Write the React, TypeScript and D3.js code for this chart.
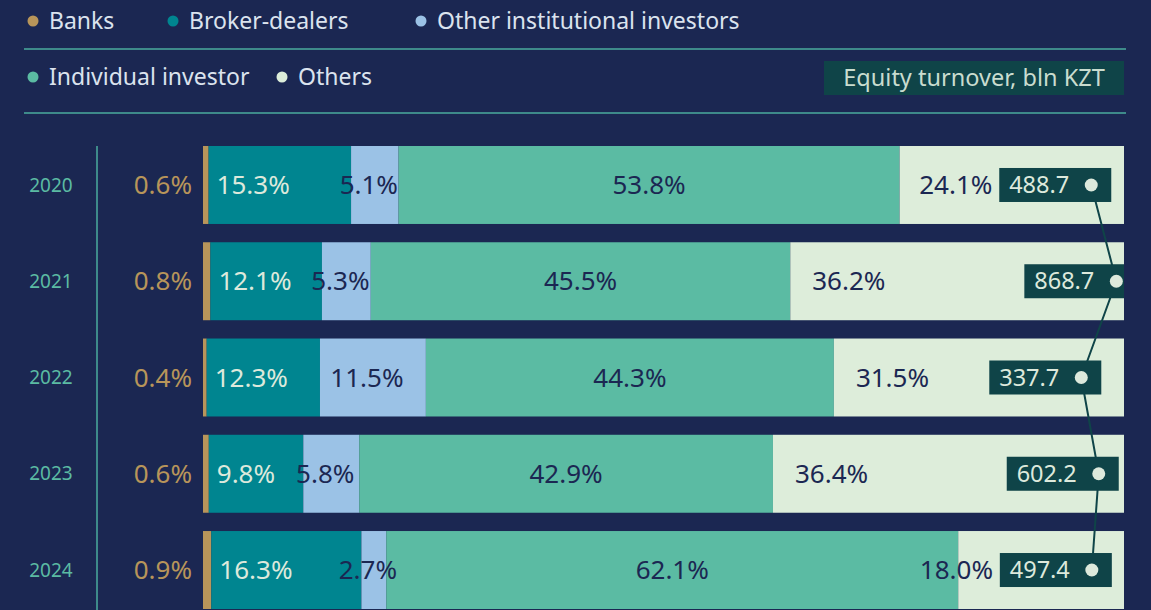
import React from "react";
import * as d3 from "d3";

const years = ["2020", "2021", "2022", "2023", "2024"];
const banks = [0.6, 0.8, 0.4, 0.6, 0.9];
const brokers = [15.3, 12.1, 12.3, 9.8, 16.3];
const otherInst = [5.1, 5.3, 11.5, 5.8, 2.7];
const individual = [53.8, 45.5, 44.3, 42.9, 62.1];
const others = [24.1, 36.2, 31.5, 36.4, 18.0];
const turnover = [488.7, 868.7, 337.7, 602.2, 497.4];

const seriesKeys = ["banks", "brokers", "otherInst", "individual", "others"];
const seriesNames = ["Banks", "Broker-dealers", "Other institutional investors", "Individual investor", "Others"];
const colors = ["#b8955a", "#008590", "#9bc2e6", "#5bbba3", "#ddedda"];

const W = 1151;
const H = 610;
const BG = "#1b2752";
const LINE = "#3e8a8a";
const DARKBOX = "#0f4448";
const LIGHT = "#dde9dc";
const FONT = "'Noto Sans', sans-serif";

export default function App() {
  const rows = years.map((y, i) => ({
    year: y,
    banks: banks[i],
    brokers: brokers[i],
    otherInst: otherInst[i],
    individual: individual[i],
    others: others[i],
  }));
  const stack = d3.stack<any>().keys(seriesKeys).offset(d3.stackOffsetExpand);
  const stacked = stack(rows);

  const x = d3.scaleLinear().domain([0, 1]).range([203, 1124]);
  const y = d3.scaleBand().domain(years).range([146, 609]).paddingInner(0.19).paddingOuter(0);
  const tx = d3.scaleLinear().domain([0, 900]).range([1059, 1118.4]);

  const cy = (yr: string) => (y(yr) as number) + y.bandwidth() / 2;

  const linePath = d3
    .line<number>()
    .x((v) => tx(v))
    .y((_, i) => cy(years[i]))(turnover);

  const legendRow1 = [
    { i: 0, x: 33, y: 21 },
    { i: 1, x: 173, y: 21 },
    { i: 2, x: 421, y: 21 },
  ];
  const legendRow2 = [
    { i: 3, x: 33, y: 77 },
    { i: 4, x: 282, y: 77 },
  ];

  return (
    <svg width={W} height={H} style={{ display: "block", position: "absolute", left: 0, top: 0 }}>
      <rect x={0} y={0} width={W} height={H} fill={BG} />
      {/* legend */}
      {[...legendRow1, ...legendRow2].map((l) => (
        <g key={l.i}>
          <circle cx={l.x} cy={l.y} r={5.5} fill={colors[l.i]} />
          <text x={l.x + 16} y={l.y} dy="0.35em" fill="#dbe3ee" fontSize={23} fontFamily={FONT}>
            {seriesNames[l.i]}
          </text>
        </g>
      ))}
      <line x1={24} x2={1126} y1={49} y2={49} stroke={LINE} strokeWidth={2} />
      <line x1={24} x2={1126} y1={113} y2={113} stroke={LINE} strokeWidth={2} />
      <rect x={824} y={61} width={300} height={34} fill={DARKBOX} />
      <text x={974} y={78} dy="0.35em" textAnchor="middle" fill="#c9dccf" fontSize={23.5} fontFamily={FONT}>
        Equity turnover, bln KZT
      </text>

      {/* vertical axis line */}
      <line x1={97} x2={97} y1={146} y2={H} stroke={LINE} strokeWidth={2} />

      {/* year labels */}
      {years.map((yr) => (
        <text key={yr} x={51} y={cy(yr)} dy="0.35em" textAnchor="middle" fill="#5bbba3" fontSize={19} fontFamily={FONT}>
          {yr}
        </text>
      ))}

      {/* bars */}
      {stacked.map((s, si) => (
        <g key={s.key} fill={colors[si]}>
          {s.map((d, i) => (
            <rect
              key={i}
              x={x(d[0])}
              y={y(years[i]) as number}
              width={Math.max(0, x(d[1]) - x(d[0]))}
              height={y.bandwidth()}
            />
          ))}
        </g>
      ))}

      {/* labels */}
      {years.map((yr, i) => {
        const c = cy(yr);
        const b = stacked[1][i];
        const o = stacked[2][i];
        const ind = stacked[3][i];
        const oth = stacked[4][i];
        const circleX = tx(turnover[i]);
        const boxLeft = circleX - 92;
        const othX = Math.min(x(oth[0]) + 22, boxLeft - 80);
        return (
          <g key={yr} fontFamily={FONT} fontSize={26}>
            <text x={192} y={c} dy="0.35em" textAnchor="end" fill="#b8955a">
              {banks[i].toFixed(1)}%
            </text>
            <text x={x(b[0]) + 8} y={c} dy="0.35em" fill={LIGHT}>
              {brokers[i].toFixed(1)}%
            </text>
            <text x={(x(o[0]) + x(o[1])) / 2 - 6} y={c} dy="0.35em" textAnchor="middle" fill={BG}>
              {otherInst[i].toFixed(1)}%
            </text>
            <text x={(x(ind[0]) + x(ind[1])) / 2} y={c} dy="0.35em" textAnchor="middle" fill={BG}>
              {individual[i].toFixed(1)}%
            </text>
            <text x={othX} y={c} dy="0.35em" fill={BG}>
              {others[i].toFixed(1)}%
            </text>
          </g>
        );
      })}

      {/* turnover line */}
      <path d={linePath || ""} fill="none" stroke={DARKBOX} strokeWidth={2} />
      {years.map((yr, i) => {
        const c = cy(yr);
        const circleX = tx(turnover[i]);
        const left = circleX - 92;
        const right = Math.min(circleX + 20, 1124);
        return (
          <g key={"t" + yr}>
            <rect x={left} y={c - 17} width={right - left} height={34} fill={DARKBOX} />
            <text x={circleX - 22} y={c} dy="0.35em" textAnchor="end" fill={LIGHT} fontSize={23.5} fontFamily={FONT}>
              {turnover[i].toFixed(1)}
            </text>
            <circle cx={circleX} cy={c} r={6.5} fill={LIGHT} />
          </g>
        );
      })}
    </svg>
  );
}
